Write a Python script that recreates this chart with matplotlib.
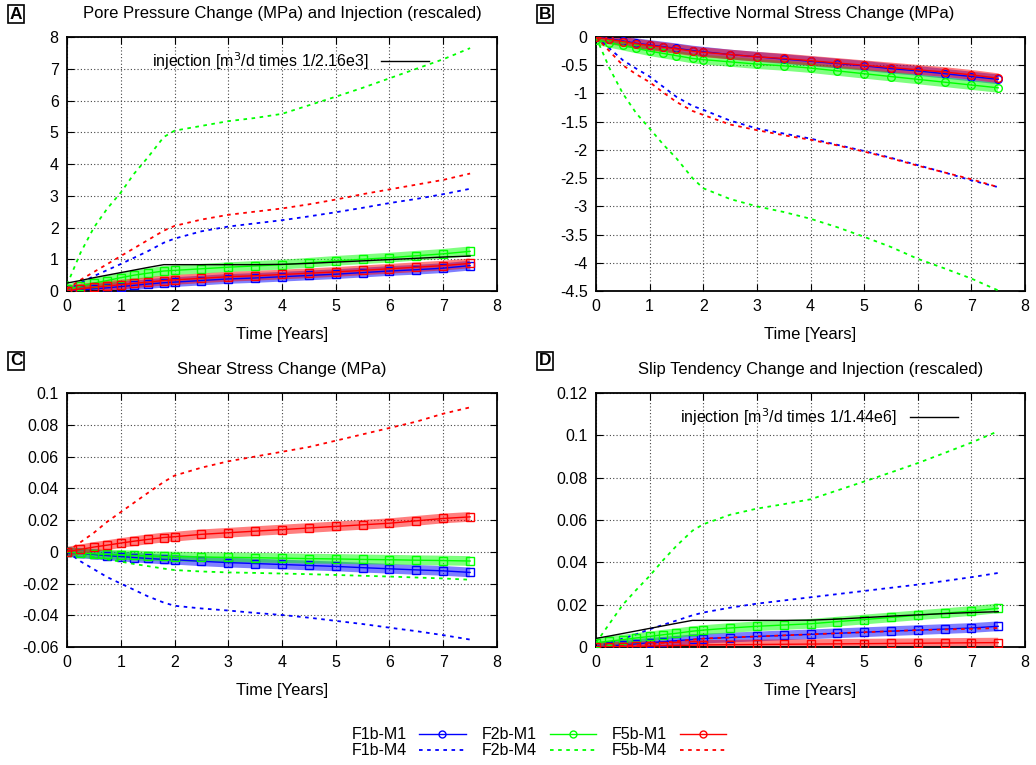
# Fault stress changes from injection -- 4 panel summary (A-D)

import matplotlib
matplotlib.use("Agg")
import matplotlib.pyplot as plt
from matplotlib.lines import Line2D
from matplotlib.ticker import FuncFormatter, MultipleLocator

plt.rcParams['font.family'] = ['Liberation Sans', 'DejaVu Sans']
plt.rcParams['axes.unicode_minus'] = False

# time axis [years]
t = [0, 0.25, 0.5, 0.75, 1, 1.25, 1.5, 1.8, 2, 2.5, 3, 3.5, 4, 4.5, 5, 5.5, 6, 6.5, 7, 7.5]

# A: pore pressure change (MPa)
a_f1_m1 = [0.0, 0.03, 0.07, 0.1, 0.14, 0.18, 0.22, 0.26, 0.28, 0.33, 0.38, 0.41, 0.45, 0.49, 0.53, 0.58, 0.63, 0.67, 0.72, 0.8]
a_f1_m4 = [0.02, 0.25, 0.47, 0.66, 0.85, 1.05, 1.25, 1.52, 1.65, 1.88, 2.03, 2.13, 2.23, 2.35, 2.48, 2.62, 2.77, 2.9, 3.05, 3.22]
a_f2_m1 = [0.05, 0.15, 0.25, 0.33, 0.42, 0.5, 0.56, 0.63, 0.65, 0.7, 0.75, 0.79, 0.83, 0.89, 0.95, 1.0, 1.05, 1.11, 1.17, 1.25]
a_f2_m4 = [0.2, 1.2, 2.0, 2.6, 3.1, 3.7, 4.2, 4.85, 5.05, 5.2, 5.35, 5.45, 5.58, 5.85, 6.12, 6.4, 6.7, 7.0, 7.3, 7.65]
a_f5_m1 = [0.0, 0.07, 0.12, 0.16, 0.2, 0.24, 0.28, 0.33, 0.35, 0.4, 0.45, 0.48, 0.52, 0.56, 0.6, 0.65, 0.7, 0.75, 0.8, 0.87]
a_f5_m4 = [0.05, 0.35, 0.6, 0.85, 1.1, 1.35, 1.6, 1.9, 2.05, 2.25, 2.4, 2.5, 2.6, 2.73, 2.88, 3.05, 3.2, 3.35, 3.5, 3.7]
a_inj = [0.25, 0.33, 0.42, 0.5, 0.58, 0.66, 0.74, 0.83, 0.83, 0.83, 0.83, 0.83, 0.84, 0.87, 0.91, 0.95, 0.99, 1.03, 1.07, 1.1]

# B: effective normal stress change (MPa)
b_f1_m1 = [0, -0.03, -0.07, -0.11, -0.14, -0.17, -0.2, -0.24, -0.26, -0.31, -0.35, -0.39, -0.43, -0.47, -0.51, -0.56, -0.6, -0.65, -0.7, -0.75]
b_f1_m4 = [0, -0.2, -0.41, -0.56, -0.7, -0.88, -1.06, -1.22, -1.29, -1.48, -1.62, -1.71, -1.8, -1.91, -2.02, -2.14, -2.27, -2.4, -2.54, -2.66]
b_f2_m1 = [-0.05, -0.1, -0.15, -0.2, -0.25, -0.29, -0.33, -0.38, -0.4, -0.44, -0.48, -0.51, -0.55, -0.6, -0.65, -0.7, -0.75, -0.8, -0.85, -0.9]
b_f2_m4 = [0, -0.55, -1.0, -1.35, -1.62, -1.9, -2.15, -2.5, -2.68, -2.87, -3.0, -3.1, -3.22, -3.37, -3.54, -3.72, -3.93, -4.1, -4.28, -4.49]
b_f5_m1 = [0, -0.04, -0.08, -0.12, -0.15, -0.18, -0.21, -0.25, -0.27, -0.31, -0.35, -0.38, -0.42, -0.46, -0.5, -0.54, -0.58, -0.62, -0.67, -0.73]
b_f5_m4 = [0, -0.25, -0.5, -0.66, -0.8, -0.98, -1.15, -1.31, -1.38, -1.55, -1.65, -1.74, -1.82, -1.92, -2.03, -2.15, -2.28, -2.4, -2.52, -2.66]

# C: shear stress change (MPa)
c_f1_m1 = [0, -0.001, -0.0017, -0.0024, -0.003, -0.0036, -0.0042, -0.0048, -0.005, -0.006, -0.0068, -0.0074, -0.008, -0.0086, -0.0092, -0.01, -0.0107, -0.0114, -0.012, -0.013]
c_f1_m4 = [0, -0.006, -0.011, -0.016, -0.02, -0.024, -0.028, -0.032, -0.034, -0.0357, -0.037, -0.0385, -0.0398, -0.0415, -0.0435, -0.0455, -0.0478, -0.05, -0.0525, -0.0553]
c_f2_m1 = [0, -0.0008, -0.0013, -0.0017, -0.002, -0.0023, -0.0026, -0.0029, -0.003, -0.0033, -0.0035, -0.0037, -0.004, -0.0043, -0.0045, -0.0048, -0.005, -0.0053, -0.0055, -0.0058]
c_f2_m4 = [0, -0.0018, -0.0033, -0.0048, -0.0062, -0.0077, -0.009, -0.0106, -0.0115, -0.0124, -0.013, -0.0133, -0.0137, -0.0141, -0.0146, -0.0151, -0.0156, -0.0162, -0.0168, -0.0176]
c_f5_m1 = [0, 0.0015, 0.003, 0.0042, 0.0055, 0.0067, 0.0078, 0.009, 0.0095, 0.011, 0.012, 0.013, 0.014, 0.015, 0.016, 0.017, 0.018, 0.0195, 0.021, 0.022]
c_f5_m4 = [0, 0.006, 0.012, 0.019, 0.025, 0.031, 0.037, 0.044, 0.048, 0.053, 0.057, 0.06, 0.063, 0.066, 0.07, 0.074, 0.078, 0.082, 0.087, 0.091]

# D: slip tendency change
d_f1_m1 = [0, 0.0005, 0.001, 0.0015, 0.002, 0.0025, 0.003, 0.0036, 0.004, 0.0045, 0.005, 0.0055, 0.006, 0.0065, 0.007, 0.0075, 0.008, 0.0085, 0.009, 0.0098]
d_f1_m4 = [0, 0.002, 0.004, 0.006, 0.0084, 0.0105, 0.0125, 0.015, 0.0163, 0.0186, 0.0205, 0.022, 0.0235, 0.025, 0.0265, 0.028, 0.0295, 0.0312, 0.033, 0.035]
d_f2_m1 = [0.002, 0.0028, 0.0035, 0.0043, 0.005, 0.0058, 0.0065, 0.0075, 0.008, 0.009, 0.0098, 0.0104, 0.011, 0.012, 0.013, 0.014, 0.015, 0.016, 0.017, 0.0183]
d_f2_m4 = [0.002, 0.011, 0.02, 0.027, 0.0336, 0.041, 0.0478, 0.055, 0.058, 0.0625, 0.0654, 0.0675, 0.0698, 0.074, 0.0782, 0.0825, 0.0869, 0.0917, 0.0966, 0.102]
d_f5_m1 = [0, 0.0001, 0.0002, 0.0003, 0.0005, 0.0006, 0.0007, 0.0009, 0.001, 0.0011, 0.0012, 0.0013, 0.0014, 0.0015, 0.0016, 0.0017, 0.0018, 0.0019, 0.002, 0.0021]
d_f5_m4 = [0, 0.0003, 0.0006, 0.001, 0.0015, 0.002, 0.0027, 0.0035, 0.004, 0.0045, 0.005, 0.0055, 0.006, 0.0065, 0.007, 0.0075, 0.008, 0.0083, 0.0086, 0.009]
d_inj = [0.0041, 0.0052, 0.0064, 0.0076, 0.0088, 0.01, 0.0112, 0.0126, 0.0126, 0.0126, 0.0126, 0.0126, 0.0127, 0.0132, 0.0139, 0.0146, 0.0152, 0.0158, 0.0163, 0.0167]

names = ['F1b', 'F2b', 'F5b']
colors = ['#0000ff', '#00ff00', '#ff0000']
dots = (0, (2, 2.5))
FS = 11.5


def draw_panel(ax, m1, m4, marker, ylim, ystep, title, letter, box_dy, inj=None, inj_label=None):
    for i in range(3):
        c = colors[i]
        # M1 runs are dense linespoints in the original -> thick band + hollow markers
        ax.plot(t, m1[i], color=c, lw=7, alpha=0.5, solid_capstyle='butt', zorder=2)
        ax.plot(t, m1[i], color=c, lw=1, marker=marker, ms=5.5, mfc='none', mew=1, zorder=3)
        ax.plot(t, m4[i], color=c, lw=1.3, linestyle=dots, zorder=3)
    if inj is not None:
        ax.plot(t, inj, color='black', lw=1, zorder=4, label=inj_label)
        ax.legend(loc='upper center', bbox_to_anchor=(0.52, 1.005), frameon=False,
                  markerfirst=False, fontsize=FS, handlelength=3.0, handletextpad=0.8)
    ax.set_xlim(0, 8)
    ax.set_ylim(*ylim)
    ax.xaxis.set_major_locator(MultipleLocator(1))
    ax.yaxis.set_major_locator(MultipleLocator(ystep))
    ax.yaxis.set_major_formatter(FuncFormatter(lambda v, p: '%g' % round(v, 6)))
    ax.grid(True, color='#444444', linestyle=(0, (1, 2)), lw=0.8)
    ax.tick_params(direction='in', top=True, right=True, length=5, labelsize=FS, pad=6)
    for s in ax.spines.values():
        s.set_linewidth(1.3)
    ax.set_title(title, fontsize=FS + 0.5, pad=14)
    ax.set_xlabel('Time [Years]', fontsize=FS + 0.5, labelpad=9)
    pos = ax.get_position()
    fig.text(pos.x0 - 0.055, pos.y1 + box_dy, letter, fontsize=FS + 1, fontweight='bold',
             va='center', ha='left',
             bbox=dict(boxstyle='square,pad=0.1', fc='white', ec='black', lw=1.2))


fig = plt.figure(figsize=(10.36, 7.65), dpi=100)
axA = fig.add_axes([0.0647, 0.6196, 0.415, 0.3320])
axB = fig.add_axes([0.5753, 0.6196, 0.4141, 0.3320])
axC = fig.add_axes([0.0647, 0.1542, 0.415, 0.3320])
axD = fig.add_axes([0.5753, 0.1542, 0.4141, 0.3320])

draw_panel(axA, [a_f1_m1, a_f2_m1, a_f5_m1], [a_f1_m4, a_f2_m4, a_f5_m4], 's', (0, 8), 1,
           'Pore Pressure Change (MPa) and Injection (rescaled)', 'A', 0.030,
           a_inj, 'injection [m$^3$/d times 1/2.16e3]')
draw_panel(axB, [b_f1_m1, b_f2_m1, b_f5_m1], [b_f1_m4, b_f2_m4, b_f5_m4], 'o', (-4.5, 0), 0.5,
           'Effective Normal Stress Change (MPa)', 'B', 0.030)
draw_panel(axC, [c_f1_m1, c_f2_m1, c_f5_m1], [c_f1_m4, c_f2_m4, c_f5_m4], 's', (-0.06, 0.1), 0.02,
           'Shear Stress Change (MPa)', 'C', 0.042)
draw_panel(axD, [d_f1_m1, d_f2_m1, d_f5_m1], [d_f1_m4, d_f2_m4, d_f5_m4], 's', (0, 0.12), 0.02,
           'Slip Tendency Change and Injection (rescaled)', 'D', 0.042,
           d_inj, 'injection [m$^3$/d times 1/1.44e6]')

# shared legend at the bottom
handles = []
labels = []
for i in range(3):
    handles.append(Line2D([0], [0], color=colors[i], lw=1, marker='o', ms=5, mfc='none'))
    labels.append(names[i] + '-M1')
    handles.append(Line2D([0], [0], color=colors[i], lw=1.3, linestyle=dots))
    labels.append(names[i] + '-M4')
fig.legend(handles, labels, loc='center', bbox_to_anchor=(0.52, 0.029), ncol=3, frameon=False,
           markerfirst=False, fontsize=FS, handlelength=2.9, handletextpad=0.8,
           columnspacing=1.0, labelspacing=0.05, numpoints=1)

fig.savefig('out.png', dpi=100)
